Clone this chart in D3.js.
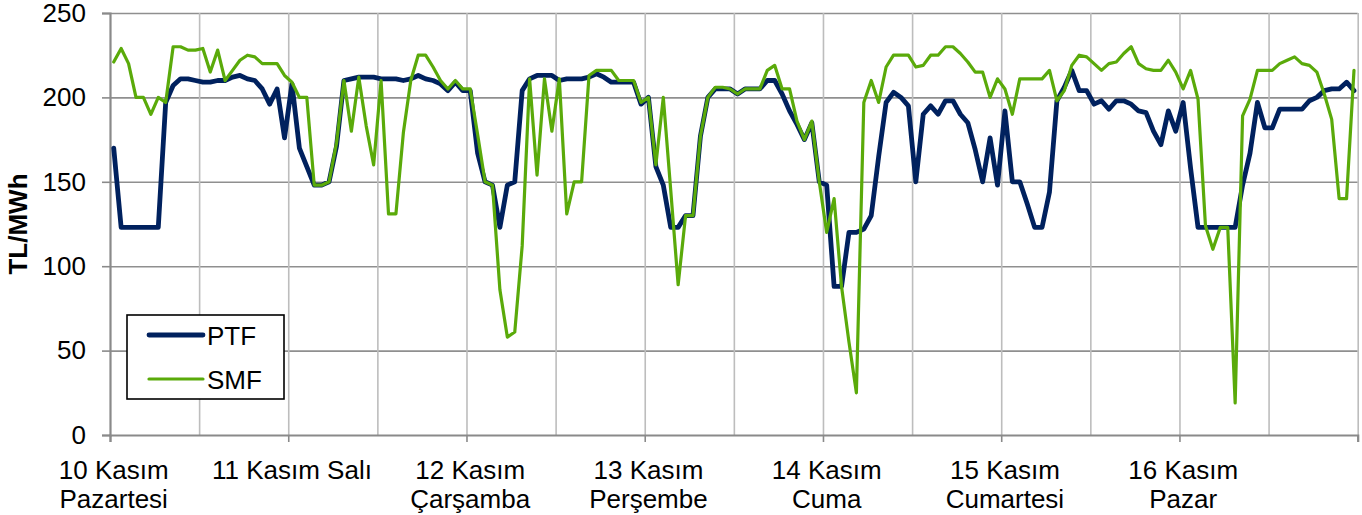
<!DOCTYPE html>
<html>
<head>
<meta charset="utf-8">
<script src="https://cdn.jsdelivr.net/npm/d3@7"></script>
<style>
  html, body { margin: 0; padding: 0; background: #fff; }
  svg { display: block; font-family: "Liberation Sans", Arial, sans-serif; }
</style>
</head>
<body>
<svg id="chart" width="1362" height="515"></svg>
<script>
// ---- data ----
const dayLabels = [
  ["10 Kasım", "Pazartesi"],
  ["11 Kasım Salı"],
  ["12 Kasım", "Çarşamba"],
  ["13 Kasım", "Perşembe"],
  ["14 Kasım", "Cuma"],
  ["15 Kasım", "Cumartesi"],
  ["16 Kasım", "Pazar"]
];
const yTicks = [0, 50, 100, 150, 200, 250];
const seriesNames = ["PTF", "SMF"];
const yTitle = "TL/MWh";

const ptf = [
  170,123,123,123,123,123,123,197,207,211,211,210,209,209,210,210,212,213,211,210,205,196,205,176,
  208,170,159,148,148,150,171,210,211,212,212,212,211,211,211,210,211,213,211,210,208,204,209,204,
  204,167,150,148,123,148,150,204,211,213,213,213,210,211,211,211,212,214,212,209,209,209,209,196,
  200,159,148,123,123,130,130,177,200,205,205,205,202,205,205,205,210,210,202,192,184,175,185,150,
  148,88,88,120,120,122,130,165,197,203,200,195,150,190,195,190,198,198,190,185,169,150,176,148,
  192,150,150,137,123,123,144,198,206,216,204,204,196,198,193,198,198,196,192,191,180,172,192,180,
  197,158,123,123,123,123,123,123,148,167,197,182,182,193,193,193,193,198,200,204,205,205,209,204
];
const smf = [
  221,229,220,200,200,190,200,197,230,230,228,228,229,215,228,210,216,222,225,224,220,220,220,213,
  209,200,200,148,148,150,173,210,180,212,183,160,210,131,131,179,210,225,225,218,210,205,210,205,
  205,178,150,148,86,58,61,112,211,154,211,180,211,131,150,150,213,216,216,216,210,210,210,197,
  200,160,200,145,89,130,130,177,200,206,206,205,202,205,205,205,216,219,205,205,186,175,186,150,
  120,140,88,55,25,197,210,197,218,225,225,225,218,219,225,225,230,230,226,221,215,215,200,211,
  205,190,211,211,211,211,216,198,204,219,225,224,220,216,220,221,226,230,220,217,216,216,222,215,
  205,216,199,124,110,123,123,19,189,199,216,216,216,220,222,224,220,219,215,202,187,140,140,216
];

// ---- layout ----
const L = 110, R = 1357.7, T = 13, B = 435;
const nHours = ptf.length;
const x = d3.scaleLinear().domain([0, nHours]).range([L, R]);
const y = d3.scaleLinear().domain([0, 250]).range([B, T]);
const svg = d3.select("#chart");
const FONT = 26;

// horizontal gridlines
svg.append("g")
  .attr("transform", `translate(${L},0)`)
  .call(d3.axisLeft(y).tickValues(yTicks.filter(v => v > 0)).tickSize(-(R - L)).tickFormat(""))
  .call(g => g.select(".domain").remove())
  .call(g => g.selectAll("line").attr("stroke", "#8f8f8f").attr("stroke-width", 1.6));

// vertical gridlines every 12 h
const halfDays = d3.range(12, nHours + 1, 12);
svg.append("g")
  .attr("transform", `translate(0,${T})`)
  .call(d3.axisBottom(x).tickValues(halfDays).tickSize(B - T).tickFormat(""))
  .call(g => g.select(".domain").remove())
  .call(g => g.selectAll("line").attr("stroke", "#bdbdbd").attr("stroke-width", 1.6));

// y axis
svg.append("g")
  .attr("transform", `translate(${L},0)`)
  .call(d3.axisLeft(y).tickValues(yTicks).tickSize(8).tickPadding(16))
  .call(g => g.select(".domain").attr("stroke", "#8a8a8a").attr("stroke-width", 2.2))
  .call(g => g.selectAll(".tick line").attr("stroke", "#8a8a8a").attr("stroke-width", 1.6))
  .call(g => g.selectAll(".tick text")
      .attr("font-size", FONT).attr("fill", "#000")
      .attr("font-family", "Liberation Sans, Arial, sans-serif"));

// x axis
const dayStarts = d3.range(0, nHours + 1, 24);
svg.append("g")
  .attr("transform", `translate(0,${B})`)
  .call(d3.axisBottom(x).tickValues(dayStarts).tickSize(7).tickFormat(""))
  .call(g => g.select(".domain").attr("stroke", "#8a8a8a").attr("stroke-width", 2.2))
  .call(g => g.selectAll(".tick line").attr("stroke", "#8a8a8a").attr("stroke-width", 1.6));

// x labels (centred on first hour of each day)
const xl = svg.append("g").attr("font-size", FONT).attr("fill", "#000").attr("text-anchor", "middle");
dayLabels.forEach((lines, d) => {
  const t = xl.append("text").attr("x", x(d * 24 + 0.5)).attr("y", 479);
  lines.forEach((ln, k) => {
    t.append("tspan").attr("x", x(d * 24 + 0.5)).attr("dy", k === 0 ? 0 : 29).text(ln);
  });
});

// y title
svg.append("text")
  .attr("transform", `translate(27,${(T + B) / 2}) rotate(-90)`)
  .attr("text-anchor", "middle")
  .attr("font-size", FONT).attr("font-weight", "bold").attr("fill", "#000")
  .text(yTitle);

// lines
const line = d3.line().x((d, i) => x(i + 0.5)).y(d => y(d));
const colors = { PTF: "#00215e", SMF: "#5aaa0a" };
const widths = { PTF: 4.8, SMF: 3.2 };
svg.append("path").datum(ptf).attr("d", line)
  .attr("fill", "none").attr("stroke", colors.PTF).attr("stroke-width", widths.PTF)
  .attr("stroke-linejoin", "round").attr("stroke-linecap", "round");
svg.append("path").datum(smf).attr("d", line)
  .attr("fill", "none").attr("stroke", colors.SMF).attr("stroke-width", widths.SMF)
  .attr("stroke-linejoin", "round").attr("stroke-linecap", "round");

// legend
const lg = svg.append("g");
lg.append("rect").attr("x", 127).attr("y", 315).attr("width", 157).attr("height", 84)
  .attr("fill", "#fff").attr("stroke", "#000").attr("stroke-width", 1.6);
seriesNames.forEach((s, k) => {
  const yy = 335 + k * 44;
  lg.append("line").attr("x1", 149).attr("x2", 203).attr("y1", yy).attr("y2", yy)
    .attr("stroke", colors[s]).attr("stroke-width", widths[s]).attr("stroke-linecap", "round");
  lg.append("text").attr("x", 207).attr("y", yy + 9.5).attr("font-size", FONT).attr("fill", "#000").text(s);
});
</script>
</body>
</html>
